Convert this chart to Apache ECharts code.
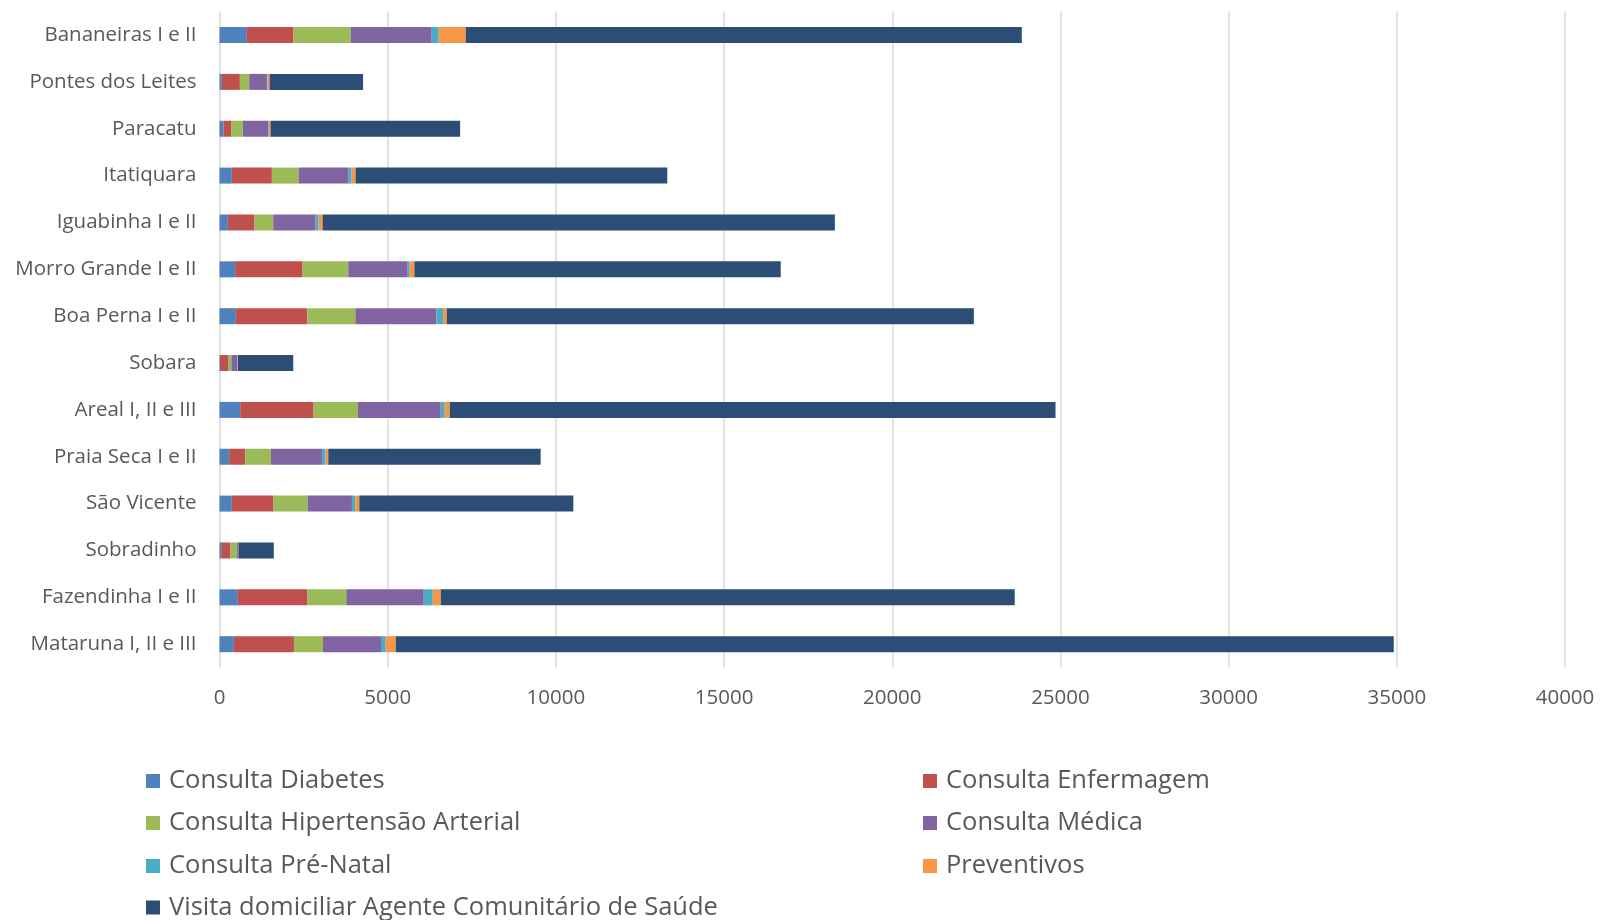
<!DOCTYPE html>
<html>
<head>
<meta charset="utf-8">
<script src="https://cdn.jsdelivr.net/npm/echarts@6/dist/echarts.min.js"></script>
<style>html,body{margin:0;padding:0;background:#fff}#c{width:1600px;height:920px}</style>
</head>
<body>
<div id="c"></div>
<script>
const categories = ["Bananeiras I e II","Pontes dos Leites","Paracatu","Itatiquara","Iguabinha I e II","Morro Grande I e II","Boa Perna I e II","Sobara","Areal I, II e III","Praia Seca I e II","São Vicente","Sobradinho","Fazendinha I e II","Mataruna I, II e III"];
const seriesNames = ["Consulta Diabetes","Consulta Enfermagem","Consulta Hipertensão Arterial","Consulta Médica","Consulta Pré-Natal","Preventivos","Visita domiciliar Agente Comunitário de Saúde"];
const diabetes     = [813, 70, 119, 367, 248, 466, 486, 15, 615, 288, 367, 50, 546, 427];
const enfermagem   = [1389, 536, 238, 1190, 794, 2004, 2123, 238, 2183, 476, 1240, 278, 2073, 1786];
const hipertensao  = [1696, 278, 337, 804, 556, 1359, 1429, 99, 1319, 764, 1012, 189, 1151, 863];
const medica       = [2411, 526, 764, 1478, 1260, 1766, 2411, 179, 2460, 1518, 1319, 30, 2302, 1726];
const preNatal     = [208, 20, 10, 89, 89, 60, 198, 5, 119, 109, 99, 5, 268, 139];
const preventivos  = [804, 60, 50, 119, 119, 139, 109, 10, 149, 79, 119, 10, 238, 298];
const visita       = [16530, 2778, 5635, 9265, 15228, 10890, 15670, 1647, 18009, 6313, 6363, 1052, 17063, 29670];
const xTicks = [0, 5000, 10000, 15000, 20000, 25000, 30000, 35000, 40000];
const colors = ["#4F81BD","#C0504D","#9BBB59","#8064A2","#4BACC6","#F79646","#2C4D75"];
const values = [diabetes, enfermagem, hipertensao, medica, preNatal, preventivos, visita];

const FONT = "'Open Sans',sans-serif";
const chart = echarts.init(document.getElementById('c'));
const legendText = {fontFamily: FONT, fontSize: 25.5, color: '#595959'};
// legend slots: [column, row]
const slots = [[0,0],[1,0],[0,1],[1,1],[0,2],[1,2],[0,3]];
const colLeft = [146, 923];
const rowCenter = [781, 823, 866, 907.5];
chart.setOption({
  animation: false,
  color: colors,
  grid: {left: 219.5, right: 35, top: 11.6, bottom: 252.4, containLabel: false},
  xAxis: {
    type: 'value', min: xTicks[0], max: xTicks[xTicks.length-1], interval: 5000,
    axisLine: {show: false}, axisTick: {show: false},
    axisLabel: {fontFamily: FONT, fontSize: 20.5, color: '#595959', margin: 20, formatter: v => String(v)},
    splitLine: {show: true, lineStyle: {color: '#D9D9D9', width: 1.5}}
  },
  yAxis: {
    type: 'category', data: categories, inverse: true,
    axisLine: {show: false}, axisTick: {show: false},
    axisLabel: {fontFamily: FONT, fontSize: 20.5, color: '#595959', margin: 23}
  },
  legend: seriesNames.map((n, i) => ({
    orient: 'horizontal', left: colLeft[slots[i][0]], top: rowCenter[slots[i][1]] - 17,
    itemWidth: 14, itemHeight: 14, icon: 'rect', padding: 0,
    textStyle: Object.assign({lineHeight: 34, padding: [0, 0, 0, 4]}, legendText), data: [n]
  })),
  series: seriesNames.map((n, i) => ({
    name: n, type: 'bar', stack: 'total', data: values[i], barWidth: 16,
    itemStyle: {color: colors[i]}
  }))
});
</script>
</body>
</html>
